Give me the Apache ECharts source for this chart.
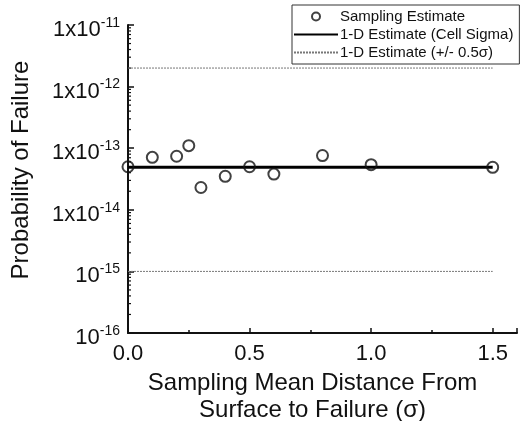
<!DOCTYPE html>
<html><head><meta charset="utf-8">
<script src="https://cdn.jsdelivr.net/npm/echarts@6/dist/echarts.min.js"></script>
<style>html,body{margin:0;padding:0;background:#fff}#c{width:523px;height:421px}</style>
</head><body><div id="c"></div>
<script>
const sampleX = [0.0, 0.1, 0.2, 0.25, 0.3, 0.4, 0.5, 0.6, 0.8, 1.0, 1.5];
const sampleY = [5.0e-14, 7.1e-14, 7.4e-14, 1.1e-13, 2.3e-14, 3.5e-14, 5.0e-14, 3.8e-14, 7.6e-14, 5.4e-14, 4.9e-14];
const cellX = [0.0, 1.5];
const cellY = [4.9e-14, 4.9e-14];
const upperY = [2.0e-12, 2.0e-12];
const lowerY = [1.0e-15, 1.0e-15];
const yMin = 1e-16, yMax = 1e-11;
const decades = [-16, -15, -14, -13, -12];
const minorMult = [2, 3, 4, 5, 6, 7, 8, 9];

const minorTicks = [];
decades.forEach(d => minorMult.forEach(m => minorTicks.push([0, m * Math.pow(10, d)])));

const FONT = 'Liberation Sans, Arial, sans-serif';
const hide = {opacity: 0};
const chart = echarts.init(document.getElementById('c'), null, {renderer: 'canvas'});
chart.setOption({
  animation: false,
  backgroundColor: '#fff',
  grid: {left: 128, right: 6, top: 25, bottom: 88, containLabel: false, outerBoundsMode: 'none'},
  legend: {
    orient: 'vertical', left: 292, top: 5,
    padding: [4, 6, 4, 1], itemGap: 3,
    itemWidth: 44, itemHeight: 8,
    borderColor: '#333', borderWidth: 1,
    textStyle: {fontFamily: FONT, fontSize: 15, color: '#111', padding: [0, 0, 0, -3]},
    data: [
      {name: 'Sampling Estimate'},
      {name: '1-D Estimate (Cell Sigma)', itemStyle: hide},
      {name: '1-D Estimate (+/- 0.5σ)', itemStyle: hide}
    ]
  },
  xAxis: {
    type: 'value', min: 0, max: 1.6, interval: 0.5,
    axisLine: {lineStyle: {color: '#111', width: 2}},
    axisTick: {inside: true, length: 5, lineStyle: {color: '#111', width: 1.5}},
    minorTick: {show: true, splitNumber: 2, length: 3, lineStyle: {color: '#111', width: 1.5}},
    splitLine: {show: false},
    axisLabel: {showMaxLabel: false, fontFamily: FONT, fontSize: 22, color: '#111', margin: 10,
      formatter: v => v.toFixed(1)},
    name: 'Sampling Mean Distance From\nSurface to Failure (σ)',
    nameLocation: 'middle', nameGap: 36,
    nameTextStyle: {fontFamily: FONT, fontSize: 24, color: '#111', lineHeight: 27, padding: [0, 20, 0, 0]}
  },
  yAxis: {
    type: 'log', logBase: 10, min: yMin, max: yMax,
    axisLine: {show: true, lineStyle: {color: '#111', width: 2}},
    axisTick: {show: true, inside: true, length: 6, lineStyle: {color: '#111', width: 1.5}},
    splitLine: {show: false},
    axisLabel: {
      fontFamily: FONT, color: '#111', margin: 8, padding: [10, 0, 0, 0],
      formatter: v => {
        const e = Math.round(Math.log10(v));
        return (e <= -15 ? '{b|10}' : '{b|1x10}') + '{s|' + e + '}';
      },
      rich: {
        b: {fontFamily: FONT, fontSize: 22, color: '#111'},
        s: {fontFamily: FONT, fontSize: 14, color: '#111', verticalAlign: 'top', padding: [0, 0, 14, 0]}
      }
    },
    name: 'Probability of Failure',
    nameLocation: 'middle', nameGap: 95,
    nameTextStyle: {fontFamily: FONT, fontSize: 24, color: '#111', padding: [0, 0, 0, 18]}
  },
  series: [
    {
      name: 'ticks', type: 'custom', silent: true, clip: false, z: 1,
      data: minorTicks,
      renderItem: (params, api) => {
        const p = api.coord([api.value(0), api.value(1)]);
        return {type: 'line', shape: {x1: p[0], y1: p[1], x2: p[0] + 3, y2: p[1]},
          style: {stroke: '#111', lineWidth: 1.2}};
      }
    },
    {
      name: '1-D Estimate (+/- 0.5σ)', type: 'line', symbol: 'none',
      data: cellX.map((x, i) => [x, upperY[i]]),
      lineStyle: {color: '#777', width: 1, type: [2, 1]},
      itemStyle: {color: '#777'}, z: 2
    },
    {
      name: '1-D Estimate (+/- 0.5σ)', type: 'line', symbol: 'none',
      data: cellX.map((x, i) => [x, lowerY[i]]),
      lineStyle: {color: '#777', width: 1, type: [2, 1]},
      itemStyle: {color: '#777'}, z: 2
    },
    {
      name: '1-D Estimate (Cell Sigma)', type: 'line', symbol: 'none',
      data: cellX.map((x, i) => [x, cellY[i]]),
      lineStyle: {color: '#000', width: 3},
      itemStyle: {color: '#000'}, z: 3
    },
    {
      name: 'Sampling Estimate', type: 'scatter', symbol: 'circle', symbolSize: 11,
      data: sampleX.map((x, i) => [x, sampleY[i]]),
      itemStyle: {color: 'rgba(255,255,255,0)', borderColor: '#111', borderWidth: 2},
      z: 4, clip: false
    }
  ]
});
</script></body></html>
